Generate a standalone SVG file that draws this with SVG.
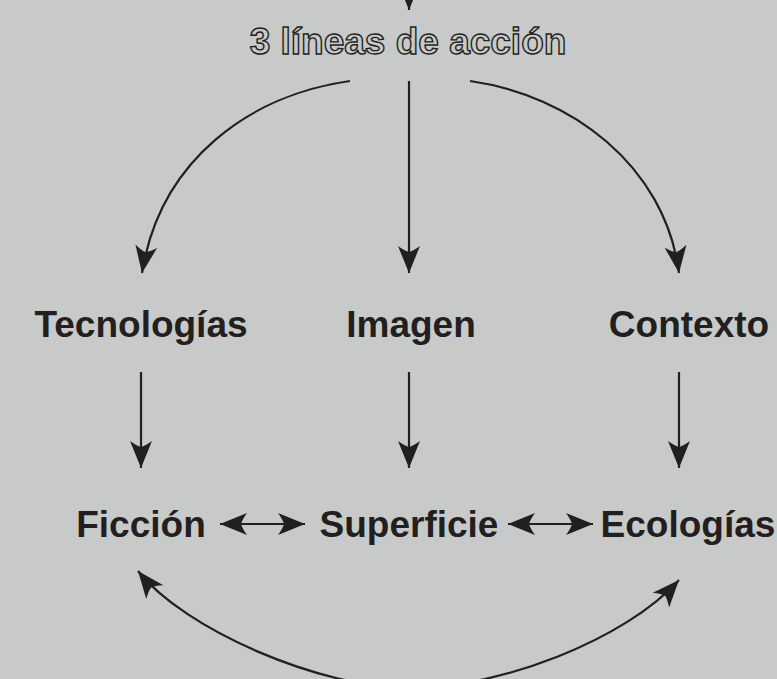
<svg xmlns="http://www.w3.org/2000/svg" width="777" height="679" viewBox="0 0 777 679">
  <defs>
    <style>
      .lbl { font-family: "Liberation Sans", Arial, Helvetica, sans-serif; font-weight: bold; font-size: 37px; fill: #231f20; text-anchor: middle; }
      .title { font-family: "Liberation Sans", Arial, Helvetica, sans-serif; font-weight: bold; font-size: 37px; fill: #c8cac9; stroke: #231f20; stroke-width: 1.4; text-anchor: middle; }
      .conn { fill: none; stroke: #231f20; stroke-width: 2.2; }
    </style>
    <marker id="ah" markerWidth="1" markerHeight="1" refX="0" refY="0" markerUnits="userSpaceOnUse" orient="auto-start-reverse" style="overflow:visible">
      <path d="M0,0 L-27,-11 Q-22,-4 -21,0 Q-22,4 -27,11 Z" fill="#231f20"/>
    </marker>
  </defs>
  <rect x="0" y="0" width="777" height="679" fill="#c8cac9"/>

  <g id="connectors">
    <line class="conn" x1="409" y1="-30" x2="409" y2="10" marker-end="url(#ah)"/>
    <path class="conn" d="M350,81 C250,95 160,160 142,273" marker-end="url(#ah)"/>
    <line class="conn" x1="409" y1="81" x2="409" y2="273" marker-end="url(#ah)"/>
    <path class="conn" d="M470,81 C570,95 665,165 679,273" marker-end="url(#ah)"/>
    <line class="conn" x1="141" y1="372" x2="141" y2="468" marker-end="url(#ah)"/>
    <line class="conn" x1="409" y1="372" x2="409" y2="468" marker-end="url(#ah)"/>
    <line class="conn" x1="679" y1="372" x2="679" y2="468" marker-end="url(#ah)"/>
    <line class="conn" x1="220" y1="524" x2="305" y2="524" marker-start="url(#ah)" marker-end="url(#ah)"/>
    <line class="conn" x1="508" y1="524" x2="593" y2="524" marker-start="url(#ah)" marker-end="url(#ah)"/>
    <path class="conn" d="M138,571 C185,630 320,688 410,688 C500,688 625,640 679,580" marker-start="url(#ah)" marker-end="url(#ah)"/>
  </g>

  <g id="node-title"><text class="title" x="408" y="54">3 líneas de acción</text></g>
  <g id="node-tecnologias"><text class="lbl" x="141" y="337">Tecnologías</text></g>
  <g id="node-imagen"><text class="lbl" x="411" y="337">Imagen</text></g>
  <g id="node-contexto"><text class="lbl" x="689" y="337">Contexto</text></g>
  <g id="node-ficcion"><text class="lbl" x="141" y="537">Ficción</text></g>
  <g id="node-superficie"><text class="lbl" x="409" y="537">Superficie</text></g>
  <g id="node-ecologias"><text class="lbl" x="688" y="537">Ecologías</text></g>
</svg>
